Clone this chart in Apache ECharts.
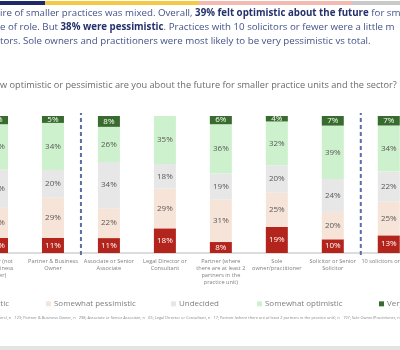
<!DOCTYPE html>
<html><head><meta charset="utf-8">
<script src="https://cdn.jsdelivr.net/npm/echarts@6/dist/echarts.min.js"></script>
<style>html,body{margin:0;padding:0;background:#fff;overflow:hidden;width:400px;height:350px;position:relative}#c{position:absolute;left:-31px;top:0;width:450px;height:350px}</style>
</head><body><div id="c"></div>
<script>
// ---- data ----
const categories = ["Partner (not\nthe business\nowner)", "Partner & Business\nOwner", "Associate or Senior\nAssociate", "Legal Director or\nConsultant", "Partner (where\nthere are at least 2\npartners in the\npractice unit)", "Sole\nowner/practitioner", "Solicitor or Senior\nSolicitor", "10 solicitors or fewer"];
const seriesNames = ["Very pessimistic", "Somewhat pessimistic", "Undecided", "Somewhat optimistic", "Very optimistic"];
const veryPessimistic    = [11, 11, 11, 18,  8, 19, 10, 13];
const somewhatPessimistic= [22, 29, 22, 29, 31, 25, 20, 25];
const undecided          = [28, 20, 34, 18, 19, 20, 24, 22];
const somewhatOptimistic = [33, 34, 26, 35, 36, 32, 39, 34];
const veryOptimistic     = [ 6,  5,  8,  0,  6,  4,  7,  7];
const dividerPairs = [[1, 2], [6, 7]];
const headerLines = [
  ["ire of smaller practices was mixed. Overall, ", "39% felt optimistic about the future", " for sm"],
  ["e of role. But ", "38% were pessimistic", ". Practices with 10 solicitors or fewer were a little m"],
  ["tors. Sole owners and practitioners were most likely to be very pessimistic vs total.", "", ""]
];
const questionText = "w optimistic or pessimistic are you about the future for smaller practice units and the sector?";
const footnoteText = "ers), n= 123; Partner & Business Owner, n= 298; Associate or Senior Associate, n= 65; Legal Director or Consultant, n= 17; Partner (where there are at least 2 partners in the practice unit), n= 197; Sole Owner/Practitioner, n= 142";

// ---- styling ----
const OX = 31; // canvas is shifted left so the first and last bars are cropped like the reference
const FONT = "'Open Sans', 'DejaVu Sans', sans-serif";
const colors = ["#b3241c", "#f7e4d9", "#e7e7e7", "#cdf1cd", "#386b2e"];
const labelColors = ["#ffffff", "#595959", "#595959", "#595959", "#ffffff"];
const ctx = document.createElement('canvas').getContext('2d');
function measure(text, size, weight) {
  ctx.font = (weight || 'normal') + ' ' + size + 'px ' + FONT;
  return ctx.measureText(text).width;
}
function fit(text, width, weight) {
  return 100 * width / measure(text, 100, weight);
}

const line1W = measure(headerLines[0][0] + headerLines[0][2], 100) + measure(headerLines[0][1], 100, 'bold');
const headerSize = Math.min(fit(headerLines[2][0], 385), 100 * 401 / line1W);
const questionSize = fit(questionText, 397);
const legendSize = fit("Somewhat pessimistic", 82);
const footSize = fit(footnoteText.slice(0, 150), 270);
const axisSize = fit("Partner & Business", 50);

const raw = [veryPessimistic, somewhatPessimistic, undecided, somewhatOptimistic, veryOptimistic];
const totals = categories.map((_, i) => raw.reduce((s, a) => s + a[i], 0));

const series = raw.map((arr, k) => ({
  name: seriesNames[k],
  type: 'bar',
  stack: 'total',
  barWidth: 22,
  itemStyle: { color: colors[k] },
  data: arr.map((v, i) => ({ value: v * 100 / totals[i], raw: v })),
  label: {
    show: true, position: 'inside', fontFamily: FONT, fontSize: 8,
    color: labelColors[k],
    formatter: p => p.data.raw > 0 ? p.data.raw + '%' : ''
  }
}));

series.push({
  type: 'custom',
  name: 'divider',
  silent: true,
  data: dividerPairs,
  renderItem: (params, api) => {
    const a = api.coord([api.value(0), 0]);
    const b = api.coord([api.value(1), 0]);
    const top = api.coord([api.value(0), 100]);
    const x = (a[0] + b[0]) / 2;
    return {
      type: 'line',
      shape: { x1: x, y1: a[1] + 2, x2: x, y2: top[1] - 3 },
      style: { stroke: '#5b6ea6', lineWidth: 2, lineDash: [4, 3] }
    };
  },
  z: 5
});

// header titles
const titles = headerLines.map((ln, i) => ({
  left: OX, top: 8 + i * 14, padding: 0,
  text: '{n|' + ln[0] + '}' + (ln[1] ? '{b|' + ln[1] + '}' : '') + (ln[2] ? '{n|' + ln[2] + '}' : ''),
  textStyle: {
    fontWeight: 'normal',
    rich: {
      n: { fontFamily: FONT, fontSize: headerSize, color: '#44528a', fontWeight: 'normal' },
      b: { fontFamily: FONT, fontSize: headerSize, color: '#24316a', fontWeight: 'bold' }
    }
  }
}));
titles.push({ left: OX, top: 81, padding: 0, text: questionText,
  textStyle: { fontFamily: FONT, fontSize: questionSize, color: '#6b6b6b', fontWeight: 'normal' } });
titles.push({ left: OX, top: 316, padding: 0, text: footnoteText,
  textStyle: { fontFamily: FONT, fontSize: footSize, color: '#8a8a8a', fontWeight: 'normal' } });

// legends: text start positions (visible coordinates)
const legendTextStart = [11 - measure(seriesNames[0], legendSize), 56, 181, 267, 389];
const legends = seriesNames.map((n, k) => ({
  data: [n], left: OX + legendTextStart[k] - 10, top: 305 - legendSize * 0.65,
  itemWidth: 5, itemHeight: 5, icon: 'rect', padding: 0,
  textStyle: { fontFamily: FONT, fontSize: legendSize, color: '#7f7f7f', padding: [0, 0, 0, -2] }
}));

const chart = echarts.init(document.getElementById('c'), null, { renderer: 'canvas' });
chart.setOption({
  animation: false,
  backgroundColor: '#ffffff',
  title: titles,
  legend: legends,
  grid: { left: 0, right: 0, top: 116, bottom: 97, containLabel: false },
  xAxis: {
    type: 'category', data: categories,
    axisLine: { lineStyle: { color: '#dcdcdc', width: 2 } },
    axisTick: { show: false },
    axisLabel: { interval: 0, fontFamily: FONT, fontSize: axisSize, color: '#7f7f7f', lineHeight: 7, margin: 5 }
  },
  yAxis: { type: 'value', min: 0, max: 100, show: false, splitLine: { show: false } },
  graphic: [
    { type: 'rect', shape: { x: OX + 0, y: 1, width: 45, height: 4 }, style: { fill: '#1c2a6b' } },
    { type: 'rect', shape: { x: OX + 45, y: 1, width: 154, height: 4 }, style: { fill: '#f6c945' } },
    { type: 'rect', shape: { x: OX + 199, y: 1, width: 153, height: 4 }, style: { fill: '#f3bab2' } },
    { type: 'rect', shape: { x: OX + 352, y: 1, width: 48, height: 4 }, style: { fill: '#c9c9c9' } },
    { type: 'rect', shape: { x: OX + 0, y: 346, width: 400, height: 4 }, style: { fill: '#e4e4e4' } }
  ],
  series: series
});
</script></body></html>
